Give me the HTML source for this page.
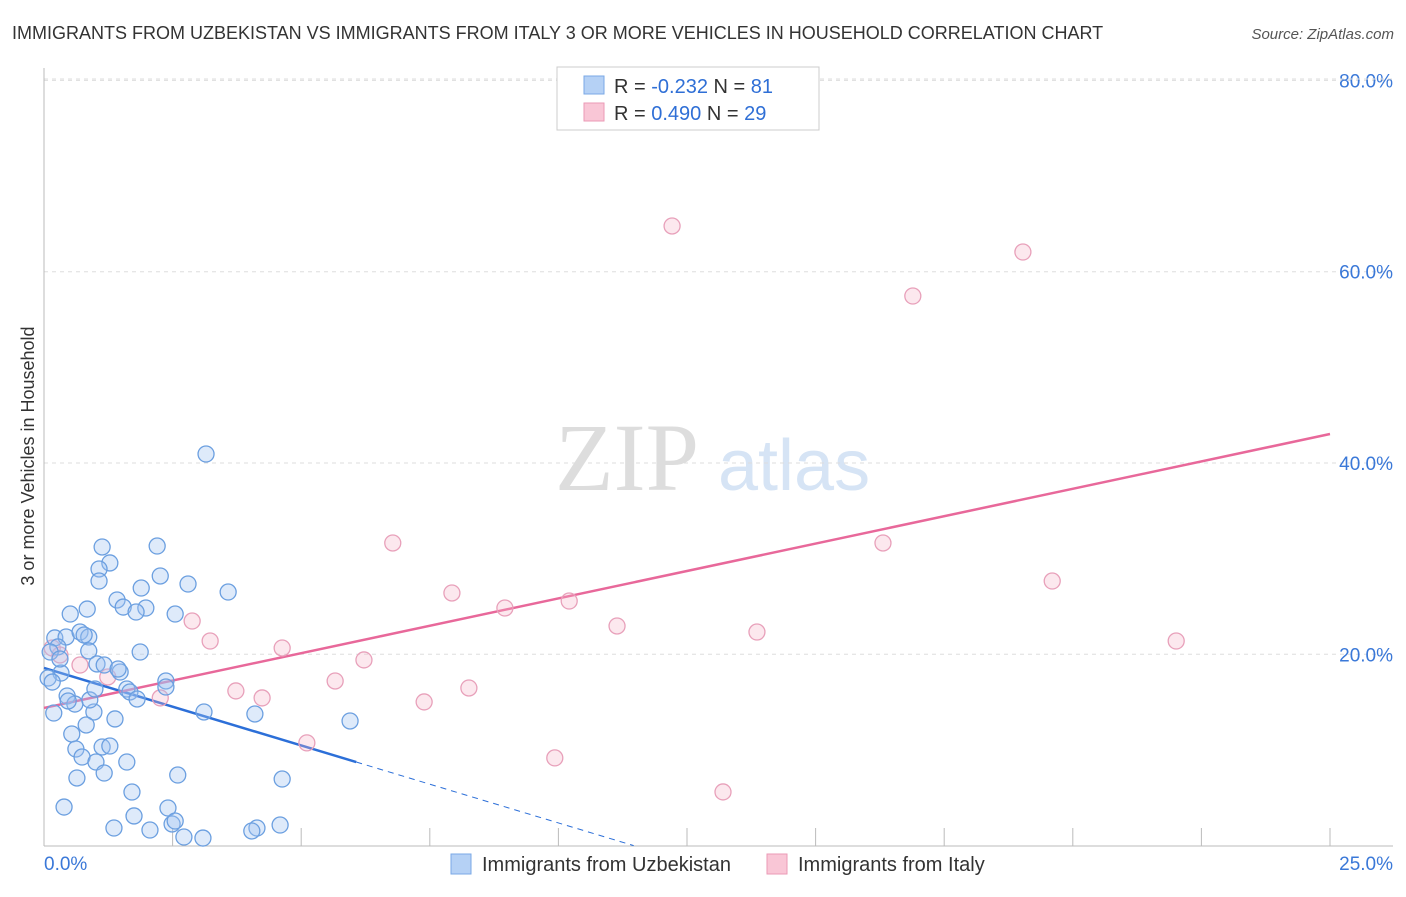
<!DOCTYPE html>
<html><head><meta charset="utf-8"><style>
body{margin:0;background:#fff;font-family:"Liberation Sans",sans-serif;}
</style></head><body>
<svg id="chart" width="1406" height="892" xmlns="http://www.w3.org/2000/svg" font-family="Liberation Sans, sans-serif">
<text x="12" y="39" font-size="18" fill="#333">IMMIGRANTS FROM UZBEKISTAN VS IMMIGRANTS FROM ITALY 3 OR MORE VEHICLES IN HOUSEHOLD CORRELATION CHART</text>
<text x="1394" y="39" font-size="15" fill="#555" text-anchor="end" font-style="italic">Source: ZipAtlas.com</text>
<g>
<text x="555" y="490" font-size="96" font-family="Liberation Serif, serif" fill="#ddd">ZIP</text>
<text x="718" y="490" font-size="72" fill="#d6e4f5">atlas</text>
</g>
<text transform="translate(34,456) rotate(-90)" font-size="18" fill="#333" text-anchor="middle">3 or more Vehicles in Household</text>
<g id="grid"></g><g id="axes"></g><g id="lines"></g><g id="pts"></g>
<g>
<rect x="557" y="67" width="262" height="63" fill="#fff" stroke="#ccc"/>
<rect x="584" y="76" width="20" height="18" fill="#b5d1f5" stroke="#7aa8e6"/>
<rect x="584" y="103" width="20" height="18" fill="#f9c6d6" stroke="#eb9ab6"/>
<text x="614" y="93" font-size="20" fill="#333">R = <tspan fill="#2f6fd6">-0.232</tspan>   N = <tspan fill="#2f6fd6"> 81</tspan></text>
<text x="614" y="120" font-size="20" fill="#333">R =  <tspan fill="#2f6fd6">0.490</tspan>   N = <tspan fill="#2f6fd6">29</tspan></text>
</g>
<g>
<rect x="451" y="854" width="20" height="20" fill="#b5d1f5" stroke="#7aa8e6"/>
<text x="482" y="871" font-size="20" fill="#333">Immigrants from Uzbekistan</text>
<rect x="767" y="854" width="20" height="20" fill="#f9c6d6" stroke="#eb9ab6"/>
<text x="798" y="871" font-size="20" fill="#333">Immigrants from Italy</text>
</g>
</svg>
<script>
const yTicks=[20,40,60,80];
const xTickLabels=["0.0%","25.0%"];
const blueX=[3.15,1.13,2.20,1.28,1.07,2.26,1.07,2.80,1.89,3.58,1.42,1.54,1.98,1.79,2.55,0.51,0.84,0.21,0.43,0.70,0.87,0.78,0.27,0.12,0.87,1.87,1.03,1.17,1.48,1.44,0.33,0.08,0.16,2.37,2.37,1.61,1.67,0.45,1.81,0.60,0.97,3.11,4.10,5.95,1.38,0.82,0.54,0.62,1.13,1.28,0.74,1.01,1.61,1.17,2.60,0.64,4.63,1.71,0.39,2.41,1.75,1.36,2.06,2.49,2.55,4.59,4.14,4.04,2.72,3.09,0.19,0.47,0.89,0.99,0.31];
const blueY=[40.94,31.22,31.32,29.55,28.92,28.19,27.66,27.35,26.93,26.51,25.68,24.94,24.84,24.42,24.21,24.21,24.73,21.71,21.81,22.33,21.81,22.02,20.77,20.24,20.35,20.24,18.99,18.88,18.15,18.46,18.04,17.52,17.10,17.21,16.58,16.37,16.06,15.64,15.33,14.80,13.97,13.97,13.76,13.03,13.24,12.61,11.67,10.10,10.31,10.41,9.26,8.74,8.74,7.59,7.38,7.07,6.96,5.60,4.03,3.93,3.10,1.84,1.63,2.26,2.57,2.15,1.84,1.53,0.90,0.79,13.86,15.12,15.23,16.37,19.51];
const pinkX=[12.21,19.03,16.89,6.78,16.31,7.93,19.60,8.96,10.21,11.14,2.88,3.23,13.86,22.01,4.63,6.22,5.66,8.26,3.73,4.24,7.39,2.26,5.11,9.93,13.20,0.16,0.70,1.24,0.31];
const pinkY=[64.78,62.06,57.46,31.64,31.64,26.41,27.66,24.84,25.57,22.96,23.48,21.39,22.33,21.39,20.66,19.41,17.21,16.48,16.17,15.44,15.02,15.44,10.74,9.17,5.61,20.66,18.88,17.63,19.93];
const blueTrend=[18.57,-1.62];
const pinkTrend=[14.39,1.1456];
const sx=v=>44+v/25*1286, sy=v=>845.6-v*9.565;
const NS="http://www.w3.org/2000/svg";
function mk(p,t,a){const e=document.createElementNS(NS,t);for(const k in a)e.setAttribute(k,a[k]);document.getElementById(p).appendChild(e);return e;}
yTicks.forEach(v=>{
 const l=mk('grid','line',{x1:44,x2:1393,y1:sy(v),y2:sy(v),stroke:'#ddd','stroke-dasharray':'4,4'});
 
 
 const t=mk('grid','text',{x:1393,y:sy(v)+7,'font-size':19,fill:'#3a78d8','text-anchor':'end'});
 t.textContent=v.toFixed(1)+'%';
 
 
});
mk('grid','line',{x1:44,x2:1393,y1:79,y2:79,stroke:'#ddd','stroke-dasharray':'4,4'});
const ya=mk('axes','line',{x1:44,x2:44,y1:68,y2:846,stroke:'#bbb'});


const xa=mk('axes','line',{x1:44,x2:1393,y1:846,y2:846,stroke:'#bbb'});


for(let i=1;i<=10;i++){const tk=mk('axes','line',{x1:sx(i*2.5),x2:sx(i*2.5),y1:828,y2:846,stroke:'#bbb'});
 
 }
const t0=mk('axes','text',{x:44,y:870,'font-size':19,fill:'#3a78d8'});t0.textContent=xTickLabels[0];


const t1=mk('axes','text',{x:1393,y:870,'font-size':19,fill:'#3a78d8','text-anchor':'end'});t1.textContent=xTickLabels[1];


pinkX.forEach((x,i)=>{const c=mk('pts','circle',{cx:sx(x),cy:sy(pinkY[i]),r:8,fill:'rgba(245,180,200,0.3)',stroke:'#e8a0ba','stroke-width':1.3});
 
 });
blueX.forEach((x,i)=>{const c=mk('pts','circle',{cx:sx(x),cy:sy(blueY[i]),r:8,fill:'rgba(160,196,240,0.35)',stroke:'#6b9fe0','stroke-width':1.3});
 
 });
const bEnd=6.07, bZero=-blueTrend[0]/blueTrend[1];
const bl=mk('lines','line',{x1:sx(0),y1:sy(blueTrend[0]),x2:sx(bEnd),y2:sy(blueTrend[0]+blueTrend[1]*bEnd),stroke:'#2c6fd8','stroke-width':2.5});


const bd=mk('lines','line',{x1:sx(bEnd),y1:sy(blueTrend[0]+blueTrend[1]*bEnd),x2:sx(bZero),y2:sy(0),stroke:'#2c6fd8','stroke-width':1,'stroke-dasharray':'6,5'});


const pl=mk('lines','line',{x1:sx(0),y1:sy(pinkTrend[0]),x2:sx(25),y2:sy(pinkTrend[0]+pinkTrend[1]*25),stroke:'#e8689a','stroke-width':2.5});


</script>
</body></html>
